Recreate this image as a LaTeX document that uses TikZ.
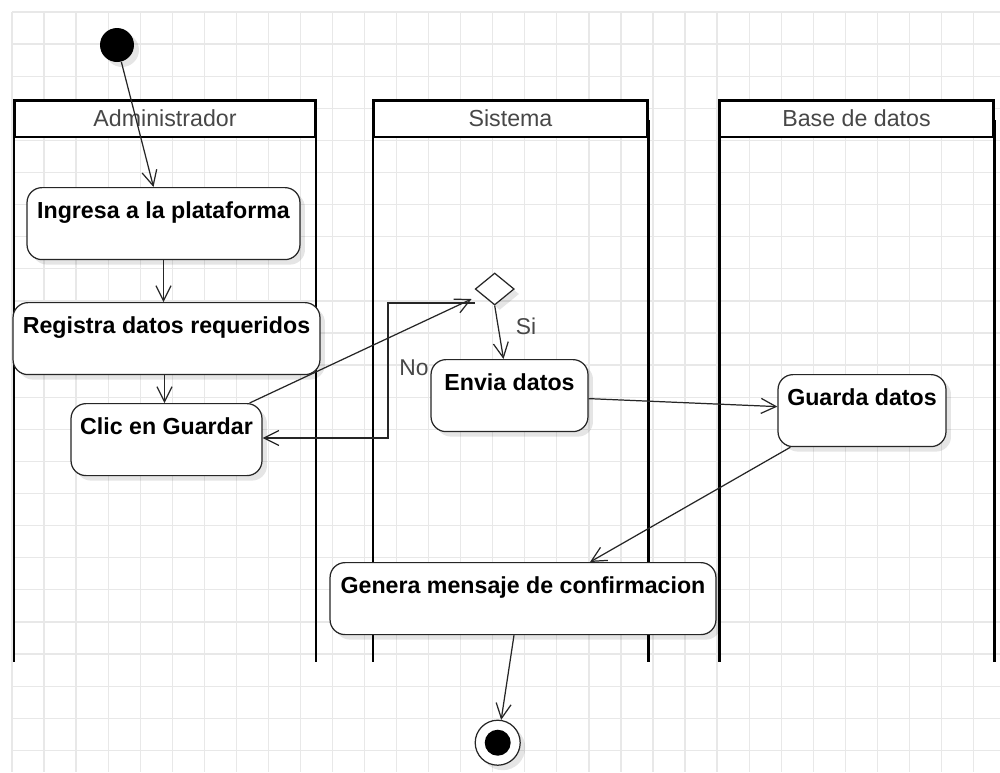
\documentclass[tikz,border=0pt]{standalone}
\usepackage{fontspec}
\setmainfont{Liberation Sans}
\usetikzlibrary{arrows.meta,positioning,calc,shapes.geometric,shadows}

\begin{document}
\begin{tikzpicture}[x=0.02cm, y=-0.02cm,
    gridline/.style={black!9, line width=0.7pt},
    lane/.style={line width=1.7pt},
    lanehead/.style={draw, line width=1.7pt, fill=white, minimum height=0.74cm,
        inner sep=0pt, text=black!72, font=\fontsize{13.2}{15}\selectfont},
    soft/.style={drop shadow={shadow xshift=0.1cm, shadow yshift=-0.1cm, opacity=0.1, fill=black}},
    act/.style={draw=black!85, line width=0.7pt, fill=white, rounded corners=0.3cm,
        inner xsep=0pt, inner ysep=0pt, text height=0.62cm, text depth=0.82cm,
        anchor=north, font=\fontsize{13.2}{15}\selectfont\bfseries, soft},
    flow/.style={black!85, line width=0.7pt, -{Straight Barb[length=3mm,width=3mm]}},
    guard/.style={text=black!72, font=\fontsize{13}{15}\selectfont}]

    % page and grid
    \useasboundingbox (0,0) rectangle (1000,772);
    \fill[white] (0,0) rectangle (1000,772);
    \foreach \i in {0,...,30}
        \draw[gridline] ({12+32.05*\i},12) -- ({12+32.05*\i},772);
    \foreach \j in {0,...,23}
        \draw[gridline] (12,{12+32.1*\j}) -- (1000,{12+32.1*\j});

    % swimlanes
    \draw[lane] (14,120) -- (14,662);
    \draw[lane] (316,120) -- (316,662);
    \node[lanehead, minimum width=6.04cm] (adm) at (165,118.5) {Administrador};

    \draw[lane] (373,120) -- (373,662);
    \draw[lane] (648,120) -- (648,662);
    \node[lanehead, minimum width=5.5cm] (sis) at (510.5,118.5) {Sistema};

    \draw[lane] (719,120) -- (719,662);
    \draw[lane] (994,120) -- (994,662);
    \node[lanehead, minimum width=5.5cm] (bd) at (856.5,118.5) {Base de datos};

    % activities
    \node[circle, fill=black, minimum size=0.68cm, inner sep=0pt, soft] (ini) at (117,45) {};

    \node[act, minimum width=5.46cm] (ing) at (163.5,187) {Ingresa a la plataforma};
    \node[act, minimum width=6.14cm] (reg) at (166.5,302) {Registra datos requeridos};
    \node[act, minimum width=3.82cm] (clic) at (166.5,403) {Clic en Guardar};

    \node[diamond, draw=black!85, fill=white, line width=0.7pt, minimum width=0.78cm,
        minimum height=0.64cm, inner sep=0pt, soft] (dec) at (494.7,289) {};
    \node[act, minimum width=3.14cm] (env) at (509.5,359) {Envia datos};
    \node[act, minimum width=3.36cm] (gua) at (862,374) {Guarda datos};
    \node[act, minimum width=7.72cm] (gen) at (523,562) {Genera mensaje de confirmacion};

    \node[circle, draw=black!85, fill=white, line width=0.7pt, minimum size=0.9cm,
        inner sep=0pt, soft] (fin) at (497.7,742.7) {};
    \fill (fin.center) circle (0.26cm);

    % flows
    \coordinate (nobend) at (388,438);
    \draw[flow] (ini) -- ($(ing.north)+(-10,0)$);
    \draw[flow] (ing.south) -- (ing.south |- reg.north);
    \draw[flow] ($(reg.south)+(-2,0)$) -- ($(reg.south |- clic.north)+(-2,0)$);
    \draw[flow] ($(clic.north east)+(-13,0)$) -- ($(dec.west)+(-3,10)$);
    \draw[flow] ($(dec.west)+(0,14)$) -| (nobend) -- (nobend -| clic.east);
    \node[guard] (no) at (414,368) {No};
    \draw[flow] (dec.south) -- ($(env.north)+(-6,0)$);
    \node[guard] (si) at (526,326) {Si};
    \draw[flow] ($(env.east)+(0,3)$) -- ($(gua.west)+(0,-4)$);
    \draw[flow] ($(gua.south west)+(13,0)$) -- ($(gen.north)+(67,0)$);
    \draw[flow] ($(gen.south)+(-9,0)$) -- (fin);
\end{tikzpicture}
\end{document}
